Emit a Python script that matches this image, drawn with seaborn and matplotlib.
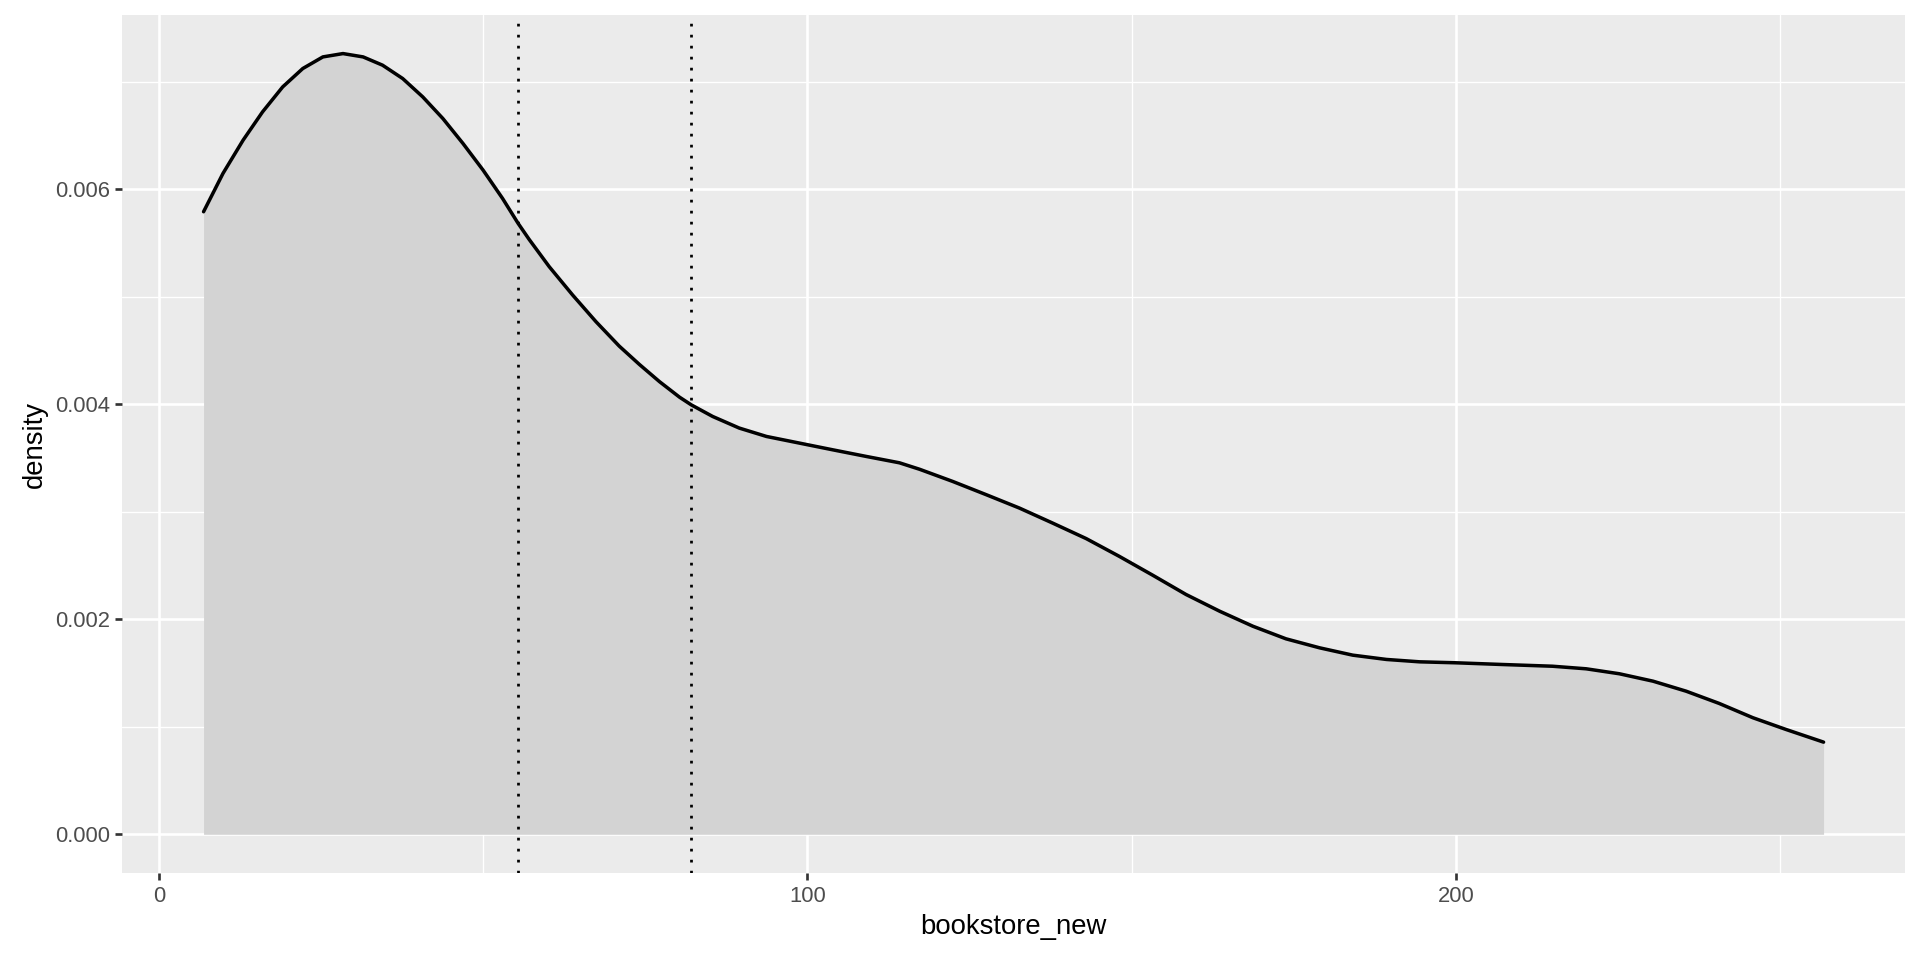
import pandas as pd
import matplotlib.pyplot as plt
from matplotlib.ticker import FixedLocator, FormatStrFormatter
import seaborn as sns

# density curve
bookstore_new = [6.9, 9.9, 13.0, 16.0, 19.1, 22.2, 25.3, 28.4, 31.5, 34.5,
                 37.6, 40.7, 43.8, 46.9, 50.0, 53.0, 55.4, 57.1, 60.2, 63.8,
                 67.4, 71.0, 74.1, 77.2, 80.3, 82.1, 85.4, 89.5, 93.7, 98.8,
                 103.9, 109.1, 114.2, 117.3, 122.4, 127.6, 132.7, 137.8, 143.0, 148.1,
                 153.3, 158.4, 163.6, 168.7, 173.8, 179.0, 184.1, 189.3, 194.4, 200.0,
                 207.2, 214.9, 220.1, 225.2, 230.4, 235.5, 240.6, 245.8, 250.9, 256.7]
density = [0.00579, 0.006147, 0.006456, 0.006719, 0.006951, 0.007122, 0.00723, 0.007261, 0.00723, 0.007153,
           0.007029, 0.006858, 0.006657, 0.006425, 0.006177, 0.005914, 0.005682, 0.005533, 0.005279, 0.005016,
           0.004768, 0.00454, 0.00437, 0.00421, 0.004065, 0.003994, 0.003886, 0.003778, 0.0037, 0.003638,
           0.003576, 0.003514, 0.003455, 0.003395, 0.003282, 0.003158, 0.003034, 0.002895, 0.00275, 0.002585,
           0.002408, 0.00223, 0.002074, 0.001935, 0.001818, 0.001734, 0.001666, 0.001626, 0.001604, 0.001595,
           0.001579, 0.001563, 0.001539, 0.001493, 0.001424, 0.001331, 0.001217, 0.001084, 0.000975, 0.000857]

# the two dotted reference lines
vlines = [55.4, 82.1]

x_breaks = [0, 100, 200]
x_minor = [50, 150, 250]
y_breaks = [0.000, 0.002, 0.004, 0.006]
y_minor = [0.001, 0.003, 0.005, 0.007]

df = pd.DataFrame({"bookstore_new": bookstore_new, "density": density})

sns.set_theme(style="darkgrid", rc={
    "axes.facecolor": "#EBEBEB",
    "grid.color": "white",
    "grid.linewidth": 1.07,
    "xtick.color": "#333333",
    "ytick.color": "#333333",
})
plt.rcParams["font.family"] = ["Liberation Sans", "DejaVu Sans"]

fig, ax = plt.subplots(figsize=(1920 / 180, 960 / 180), dpi=180)
fig.subplots_adjust(left=0.0638, right=0.992, bottom=0.0903, top=0.9844)

ax.fill_between(df["bookstore_new"], 0, df["density"], color="#D3D3D3", lw=0, zorder=2)
sns.lineplot(data=df, x="bookstore_new", y="density", color="black", lw=1.4,
             sort=False, ax=ax, zorder=3)
for v in vlines:
    ax.axvline(v, color="black", lw=1.1, ls=(0, (1, 3)), zorder=4)

ax.set_xlim(-5.6, 269.2)
ax.set_ylim(-0.000363, 0.00762)

ax.xaxis.set_major_locator(FixedLocator(x_breaks))
ax.xaxis.set_minor_locator(FixedLocator(x_minor))
ax.yaxis.set_major_locator(FixedLocator(y_breaks))
ax.yaxis.set_minor_locator(FixedLocator(y_minor))
ax.yaxis.set_major_formatter(FormatStrFormatter("%.3f"))
ax.grid(which="major", color="white", lw=1.07)
ax.grid(which="minor", color="white", lw=0.53)
ax.set_axisbelow(True)

ax.tick_params(which="major", length=2.75, width=1.07, pad=2.2,
               labelsize=8.8, labelcolor="#4D4D4D", bottom=True, left=True)
ax.tick_params(which="minor", length=0)
for s in ax.spines.values():
    s.set_visible(False)

ax.set_xlabel("bookstore_new", fontsize=11, color="black", labelpad=3)
ax.set_ylabel("density", fontsize=11, color="black", labelpad=3)

fig.savefig("out.png", dpi=180)
